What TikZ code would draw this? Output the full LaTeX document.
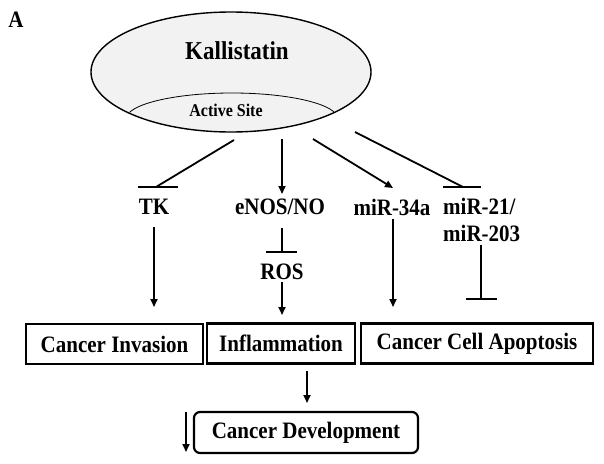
\documentclass[tikz,border=0pt]{standalone}
\usepackage{fontspec}
\usepackage{graphicx}
\setmainfont{Liberation Serif}
\usetikzlibrary{arrows.meta,shapes.geometric}
\newcommand\vstr[1]{\scalebox{1}[1.12]{#1}}
\begin{document}
\begin{tikzpicture}[x=1pt,y=-1pt,
  lbl/.style={font=\fontsize{21}{24}\selectfont\bfseries, inner sep=0pt},
  boxnode/.style={draw, line width=2.2pt, font=\fontsize{21}{24}\selectfont\bfseries, inner sep=0pt, minimum height=40pt},
  act/.style={line width=1.8pt, -{Triangle[length=8pt,width=7pt]}},
  inh/.style={line width=1.8pt},
]
\useasboundingbox (0,0) rectangle (604,463);
% label A
\node[font=\fontsize{21}{23}\selectfont\bfseries, inner sep=0pt] (A) at (16,20) {\vstr{A}};
% Kallistatin ellipse
\node[ellipse, draw, line width=1.4pt, fill=gray!10, minimum width=280pt, minimum height=120pt, inner sep=0pt] (kal) at (231,72) {};
\begin{scope}
  \clip (231,72) ellipse [x radius=139, y radius=59];
  \draw[line width=0.8pt] (232,119) ellipse [x radius=106, y radius=26];
\end{scope}
\node[font=\fontsize{23}{26}\selectfont\bfseries, inner sep=0pt] (kt) at (237,51) {\vstr{Kallistatin}};
\node[font=\fontsize{16}{18}\selectfont\bfseries, inner sep=0pt] (as) at (226,110) {\vstr{Active Site}};
% middle labels
\node[lbl] (tk) at (154,207) {\vstr{TK}};
\node[lbl] (enos) at (280,207) {\vstr{eNOS/NO}};
\node[lbl] (mir34) at (392,207) {\vstr{miR-34a}};
\node[lbl, anchor=west] (mir21) at (443,206) {\vstr{miR-21/}};
\node[lbl, anchor=west] (mir203) at (443,233) {\vstr{miR-203}};
\node[lbl] (ros) at (282,272) {\vstr{ROS}};
% boxes
\node[boxnode, minimum width=177pt] (inv) at (114.5,344) {\vstr{Cancer Invasion}};
\node[boxnode, minimum width=148pt] (infl) at (281,343.5) {\vstr{Inflammation}};
\node[boxnode, minimum width=232pt] (apo) at (477,343.5) {\vstr{Cancer Cell Apoptosis}};
\node[boxnode, rounded corners=6pt, minimum width=224pt, minimum height=41pt] (dev) at (306,432.5) {\vstr{Cancer Development}};
% coordinates
\coordinate (k1) at (234,140); \coordinate (tkb) at (156,187);
\coordinate (tkbl) at (138,187); \coordinate (tkbr) at (178,187);
\coordinate (k2) at (282,139); \coordinate (enost) at (282,194);
\coordinate (k3) at (313,139); \coordinate (m34t) at (393,188);
\coordinate (k4) at (355,132); \coordinate (m21b) at (463,187);
\coordinate (m21bl) at (443,187); \coordinate (m21br) at (481,187);
\coordinate (e1) at (282,228); \coordinate (rb) at (282,252);
\coordinate (rbl) at (266,252); \coordinate (rbr) at (297,252);
\coordinate (t1) at (154,227); \coordinate (t2) at (154,307);
\coordinate (r1) at (282,282); \coordinate (r2) at (282,315);
\coordinate (m1) at (393,219); \coordinate (m2) at (393,307);
\coordinate (n1) at (481,245); \coordinate (n2) at (481,299);
\coordinate (n2l) at (466,299); \coordinate (n2r) at (497,299);
\coordinate (i1) at (307,371); \coordinate (i2) at (307,403);
\coordinate (d1) at (186,412); \coordinate (d2) at (186,452);
% connectors
\draw[inh] (k1) -- (tkb); \draw[inh] (tkbl) -- (tkbr);
\draw[act] (k2) -- (enost);
\draw[act] (k3) -- (m34t);
\draw[inh] (k4) -- (m21b); \draw[inh] (m21bl) -- (m21br);
\draw[inh] (e1) -- (rb); \draw[inh] (rbl) -- (rbr);
\draw[act] (t1) -- (t2);
\draw[act] (r1) -- (r2);
\draw[act] (m1) -- (m2);
\draw[inh] (n1) -- (n2); \draw[inh] (n2l) -- (n2r);
\draw[act] (i1) -- (i2);
\draw[act] (d1) -- (d2);
\end{tikzpicture}
\end{document}
